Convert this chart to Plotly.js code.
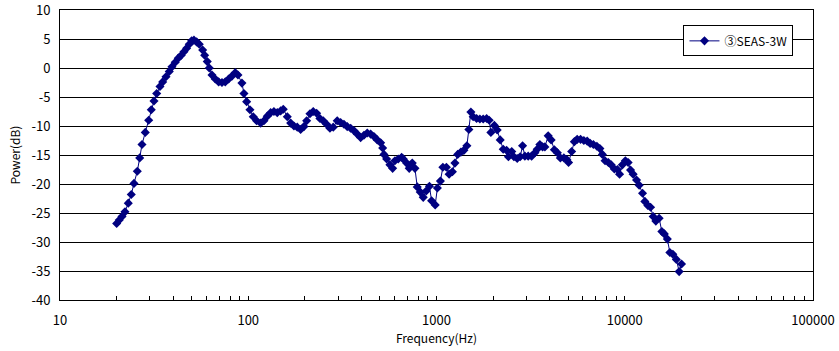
<!DOCTYPE html>
<html>
<head>
<meta charset="utf-8">
<script src="https://cdn.plot.ly/plotly-3.0.1.min.js"></script>
<style>html,body{margin:0;padding:0;background:#fff;}#chart{width:839px;height:351px;}</style>
</head>
<body>
<div id="chart"></div>
<script>
const seriesName = "③SEAS-3W";
const freqHz = [20.0,20.65,21.35,22.14,23.05,23.91,24.72,25.74,26.51,27.26,28.38,29.59,30.54,31.57,32.63,33.97,35.11,36.56,38.06,39.33,40.95,42.48,44.07,45.55,47.08,48.6,50.05,51.47,53.21,54.93,57.26,58.68,60.58,62.08,64.16,66.8,69.64,72.51,75.49,78.7,81.94,85.31,88.16,92.57,94.88,98.06,102.1,106.3,110.8,116.4,121.2,126.2,131.5,136.9,142.6,148.6,153.5,161.2,168.0,174.9,182.1,189.8,197.6,204.3,212.7,221.4,230.8,240.3,250.2,260.8,271.6,282.8,296.9,309.5,322.3,335.6,349.9,364.3,379.3,395.4,411.7,428.7,446.8,465.3,484.5,505.1,517.6,525.9,543.5,565.8,584.8,601.5,626.2,652.9,665.8,694.0,716.4,743.2,768.2,790.1,819.6,850.3,882.0,917.2,941.9,984.4,1011,1049,1081,1129,1167,1215,1253,1296,1348,1398,1450,1486,1523,1566,1633,1700,1770,1846,1905,1945,2030,2101,2180,2262,2358,2410,2510,2577,2683,2783,2866,2948,3069,3200,3332,3427,3541,3660,3764,3919,4065,4227,4386,4550,4749,4927,5030,5224,5400,5588,5826,6064,6315,6550,6812,7111,7377,7606,7861,8185,8470,8808,9138,9385,9712,10075,10425,10735,11081,11553,11926,12433,12788,13265,13712,14155,14629,15231,15743,16231,16839,17362,18009,18797,19454,20033];
const powerDb = [-26.8,-26.2,-25.6,-24.8,-23.3,-21.8,-19.9,-17.8,-15.5,-13.2,-11.1,-9.0,-7.2,-5.7,-4.4,-3.2,-2.4,-1.5,-0.6,0.2,1.0,1.7,2.2,2.8,3.4,4.1,4.7,4.8,4.5,4.1,3.1,2.2,1.1,0.0,-1.2,-1.9,-2.4,-2.5,-2.4,-1.9,-1.4,-0.8,-1.2,-2.6,-4.4,-5.8,-7.2,-8.4,-9.1,-9.5,-9.1,-8.3,-7.7,-7.5,-7.7,-7.4,-7.1,-8.4,-9.5,-10.0,-10.2,-10.6,-10.1,-9.1,-7.9,-7.5,-7.8,-8.7,-9.1,-9.7,-10.4,-10.2,-9.1,-9.4,-9.7,-10.1,-10.4,-10.8,-11.4,-12.0,-11.6,-11.2,-11.4,-11.8,-12.4,-12.9,-13.8,-14.9,-15.7,-16.7,-17.3,-16.0,-15.7,-15.4,-15.7,-16.4,-17.3,-16.4,-17.3,-20.5,-21.4,-22.3,-21.2,-20.4,-22.9,-23.6,-20.7,-19.5,-17.1,-17.1,-18.3,-17.9,-16.4,-14.9,-14.5,-14.2,-13.4,-10.6,-7.6,-8.4,-8.7,-8.8,-8.8,-8.7,-9.0,-11.1,-9.9,-10.7,-12.4,-14.0,-14.2,-15.3,-14.4,-15.3,-15.6,-15.3,-13.4,-15.2,-15.2,-15.2,-14.6,-14.0,-13.2,-13.6,-13.6,-11.7,-12.4,-14.1,-14.6,-15.5,-15.5,-15.8,-16.3,-14.4,-12.7,-12.3,-12.3,-12.5,-12.6,-13.0,-13.2,-13.5,-13.9,-14.9,-16.0,-16.3,-16.7,-17.4,-17.5,-18.3,-16.7,-16.0,-16.3,-17.6,-18.3,-19.3,-20.2,-21.6,-23.0,-23.7,-24.0,-25.6,-26.4,-25.9,-28.2,-28.6,-29.5,-31.8,-32.1,-33.0,-35.1,-33.8];
const xTickVals = [10,100,1000,10000,100000];
const xTickText = ["10","100","1000","10000","100000"];
const yTickVals = [10,5,0,-5,-10,-15,-20,-25,-30,-35,-40];
const yTickText = ["10","5","0","-5","-10","-15","-20","-25","-30","-35","-40"];

const fontFam = "'Noto Sans CJK JP', 'DejaVu Sans', sans-serif";
const trace = {
  x: freqHz, y: powerDb, type: 'scatter', mode: 'lines+markers', name: seriesName,
  line: {color: '#000080', width: 1},
  marker: {symbol: 'diamond', size: 7, color: '#000080'}
};
const layout = {
  width: 839, height: 351,
  margin: {l: 60, r: 26, t: 10, b: 51},
  paper_bgcolor: '#ffffff', plot_bgcolor: '#ffffff',
  font: {family: fontFam, size: 13, color: '#000'},
  showlegend: true,
  legend: {x: 0.828, y: 0.947, xanchor: 'left', yanchor: 'top', bgcolor: '#fff',
           bordercolor: '#000', borderwidth: 1, font: {size: 12, family: fontFam},
           itemwidth: 30, tracegroupgap: 0},
  xaxis: {
    type: 'log', range: [1, 5], tickvals: xTickVals, ticktext: xTickText,
    showgrid: false, zeroline: false, showline: true, linecolor: '#000', linewidth: 1, mirror: true,
    ticks: 'inside', ticklen: 4, tickcolor: '#000', ticklabelstandoff: 8, ticklabeloverflow: 'allow',
    minor: {ticks: 'inside', ticklen: 4, tickcolor: '#000', dtick: 'D1', showgrid: false},
    title: {text: 'Frequency(Hz)', font: {size: 12}, standoff: 4},
    tickfont: {size: 13}
  },
  yaxis: {
    range: [-40, 10], tickvals: yTickVals, ticktext: yTickText,
    showgrid: true, gridcolor: '#000', gridwidth: 1, zeroline: false,
    showline: true, linecolor: '#000', linewidth: 1, mirror: true,
    ticks: '', ticklabelstandoff: 6, ticklabeloverflow: 'allow',
    title: {text: 'Power(dB)', font: {size: 12}, standoff: 8},
    tickfont: {size: 13}
  }
};
Plotly.newPlot('chart', [trace], layout, {displayModeBar: false, staticPlot: true});
</script>
</body>
</html>
